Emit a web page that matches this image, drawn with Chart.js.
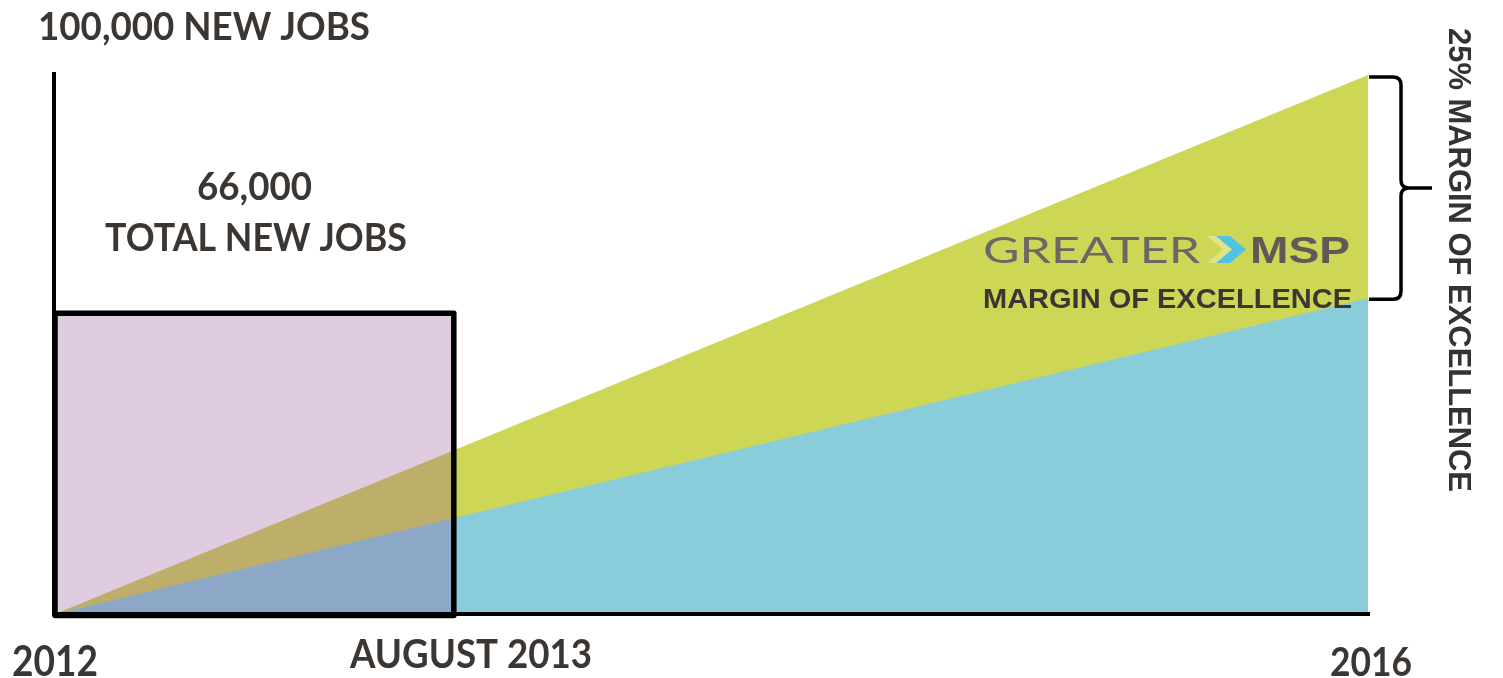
<!DOCTYPE html>
<html><head><meta charset="utf-8">
<script src="https://cdn.jsdelivr.net/npm/chart.js@4.4.1/dist/chart.umd.min.js"></script>
<style>html,body{margin:0;padding:0;background:#fff;overflow:hidden}canvas{display:block}</style>
</head><body>
<canvas id="c" width="1503" height="678"></canvas>
<script>
// ---- data ----
const timelineLabels = ['2012', 'AUGUST 2013', '2016'];
const timelinePositions = [2012, 2013.215, 2016];
const goalYears = [2012, 2016];
const goalJobs = [0, 100000];        // goal incl. 25% margin of excellence
const baselineJobs = [0, 58600];     // baseline growth line
const achievedYears = [2012, 2013.215]; // 2012 .. August 2013
const achievedJobs = [55800, 55800]; // box height as drawn (labelled 66,000)
const topLabel = '100,000 NEW JOBS';
const boxLabel = ['66,000', 'TOTAL NEW JOBS'];
const sideLabel = '25% MARGIN OF EXCELLENCE';

const DARK = '#3b3632';
const LATO = 'Lato, "Open Sans", sans-serif';
const ARIAL = '"Liberation Sans", Arial, sans-serif';
const pts = (xs, ys) => xs.map((x, i) => ({x, y: ys[i]}));

// draw text with given cap height and width (horizontal scaling)
function drawText(ctx, text, left, baseline, cap, width, weight, family, capRatio) {
  const size = cap / capRatio;
  ctx.font = `${weight} ${size}px ${family}`;
  const w = ctx.measureText(text).width;
  ctx.save();
  ctx.translate(left, baseline);
  ctx.scale(width / w, 1);
  ctx.textAlign = 'left';
  ctx.textBaseline = 'alphabetic';
  ctx.fillText(text, 0, 0);
  ctx.restore();
}

const decor = {
  id: 'decor',
  afterDatasetsDraw(chart) {
    const ctx = chart.ctx;
    const xs = chart.scales.x, ys = chart.scales.y;
    const X = v => xs.getPixelForValue(v), Y = v => ys.getPixelForValue(v);
    ctx.save();
    // axes
    ctx.strokeStyle = '#000';
    ctx.lineWidth = 4;
    ctx.lineCap = 'butt';
    ctx.beginPath();
    ctx.moveTo(X(2012) - 1, 72); ctx.lineTo(X(2012) - 1, Y(0) + 2);
    ctx.moveTo(X(2012) - 3, Y(0)); ctx.lineTo(X(2016) + 2, Y(0));
    ctx.stroke();
    // box outline
    ctx.lineWidth = 5.5;
    ctx.lineJoin = 'round';
    ctx.strokeRect(X(achievedYears[0]), Y(achievedJobs[0]), X(achievedYears[1]) - X(achievedYears[0]), Y(0) - Y(achievedJobs[0]) + 1.5);

    // bracket
    const y0 = Y(goalJobs[1]) + 2, y1 = Y(baselineJobs[1]) + 1, x0 = X(2016) + 1;
    const xv = x0 + 32, tip = x0 + 63, ym = (y0 + y1) / 2, r = 8;
    ctx.lineWidth = 3.5;
    ctx.beginPath();
    ctx.moveTo(x0, y0); ctx.lineTo(xv - r, y0); ctx.quadraticCurveTo(xv, y0, xv, y0 + r);
    ctx.lineTo(xv, ym - r); ctx.quadraticCurveTo(xv, ym, xv + r, ym); ctx.lineTo(tip, ym);
    ctx.moveTo(xv + r, ym); ctx.quadraticCurveTo(xv, ym, xv, ym + r);
    ctx.lineTo(xv, y1 - r); ctx.quadraticCurveTo(xv, y1, xv - r, y1); ctx.lineTo(x0, y1);
    ctx.stroke();

    // texts
    ctx.fillStyle = DARK;
    drawText(ctx, topLabel, 38, 40, 27, 332, 'bold', LATO, 0.717);
    drawText(ctx, boxLabel[0], 197, 200, 28, 115, 'bold', LATO, 0.717);
    drawText(ctx, boxLabel[1], 105, 251, 28, 302, 'bold', LATO, 0.717);

    const tickL = [12, 350, 1330], tickW = [86, 242, 82], tickB = [676, 668, 676], tickC = [30, 29, 29];
    timelineLabels.forEach((t, i) => {
      drawText(ctx, t, tickL[i], tickB[i], tickC[i], tickW[i], 'bold', LATO, 0.717);
    });

    // vertical label
    ctx.save();
    ctx.translate(1449, 28);
    ctx.rotate(Math.PI / 2);
    ctx.fillStyle = '#36322f';
    drawText(ctx, sideLabel, 0, 0, 23, 464, 'bold', ARIAL, 0.716);
    ctx.restore();

    // logo
    ctx.fillStyle = '#6b6766';
    drawText(ctx, 'GREATER', 983, 263, 27, 217, 'normal', 'Lato, "Liberation Sans", sans-serif', 0.717);
    // faded chevron
    ctx.fillStyle = 'rgba(255,255,240,0.35)';
    ctx.beginPath();
    ctx.moveTo(1207, 236); ctx.lineTo(1218, 236); ctx.lineTo(1234, 249.5);
    ctx.lineTo(1218, 263); ctx.lineTo(1207, 263); ctx.lineTo(1223, 249.5); ctx.closePath(); ctx.fill();
    // blue chevron
    ctx.fillStyle = '#4fc3e2';
    ctx.beginPath();
    ctx.moveTo(1216, 236); ctx.lineTo(1230, 236); ctx.lineTo(1246, 249.5);
    ctx.lineTo(1230, 263); ctx.lineTo(1216, 263); ctx.lineTo(1232, 249.5); ctx.closePath(); ctx.fill();
    ctx.fillStyle = '#5f5958';
    drawText(ctx, 'MSP', 1250, 263, 27, 100, 'bold', ARIAL, 0.716);
    ctx.fillStyle = DARK;
    drawText(ctx, 'MARGIN OF EXCELLENCE', 983, 308, 20, 369, 'bold', ARIAL, 0.716);
    ctx.restore();
  }
};

new Chart(document.getElementById('c'), {
  type: 'line',
  data: {
    datasets: [
      {
        label: 'Achieved',
        data: pts(achievedYears, achievedJobs),
        borderColor: 'rgba(0,0,0,0)', borderWidth: 0.01, backgroundColor: 'rgba(148,85,152,0.3)',
        fill: 'origin', pointRadius: 0, order: 0
      },
      {
        label: 'Baseline',
        data: pts(goalYears, baselineJobs),
        borderColor: 'rgba(0,0,0,0)', borderWidth: 0.01, backgroundColor: '#89ccda',
        fill: 'origin', pointRadius: 0, order: 1
      },
      {
        label: 'Goal',
        data: pts(goalYears, goalJobs),
        borderColor: 'rgba(0,0,0,0)', borderWidth: 0.01, backgroundColor: '#ced655',
        fill: 'origin', pointRadius: 0, order: 2
      }
    ]
  },
  options: {
    responsive: false,
    animation: false,
    events: [],
    layout: {padding: {left: 55, right: 135, top: 75, bottom: 64}},
    scales: {
      x: {type: 'linear', min: 2012, max: 2016, display: false},
      y: {type: 'linear', min: 0, max: 100000, display: false}
    },
    plugins: {legend: {display: false}, tooltip: {enabled: false}}
  },
  plugins: [decor]
});
</script>
</body></html>
